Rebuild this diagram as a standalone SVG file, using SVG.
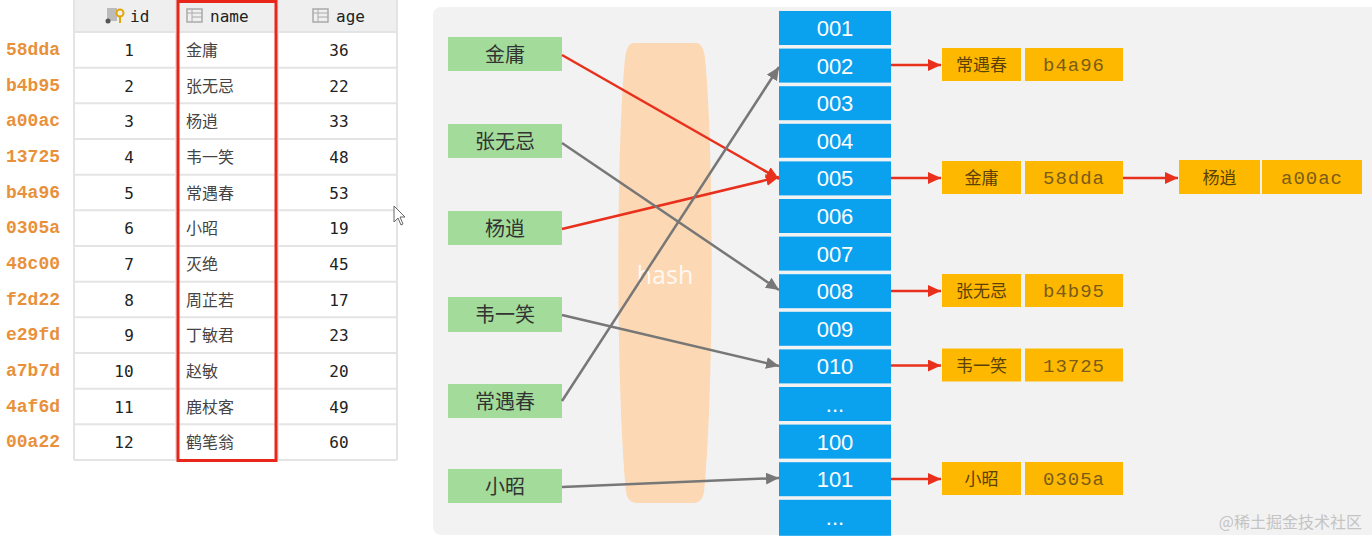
<svg xmlns="http://www.w3.org/2000/svg" width="1372" height="538" viewBox="0 0 1372 538">
<style>
.hdr{font-family:"DejaVu Sans Mono","Liberation Mono",monospace;font-size:16px;fill:#222}
.num{font-family:"DejaVu Sans Mono","Liberation Mono",monospace;font-size:16px;fill:#222;text-anchor:middle}
.nm{font-family:"Noto Sans CJK SC",sans-serif;font-size:16px;fill:#444}
.key{font-family:"Liberation Mono",monospace;font-size:18px;font-weight:bold;fill:#e8913a;text-anchor:middle}
.grn rect{fill:#a3dc9a}
.grn text{font-family:"Noto Sans CJK SC",sans-serif;font-size:20px;fill:#333;text-anchor:middle}
.bkt rect{fill:#0aa2ef}
.bkt text{font-family:"Liberation Sans",Arial,sans-serif;font-size:22px;fill:#fff;text-anchor:middle}
.ent rect{fill:#ffb800}
.ent .n{font-family:"Noto Sans CJK SC",sans-serif;font-size:17px;fill:#5a4208;text-anchor:middle}
.ent .v{font-family:"Liberation Mono",monospace;font-size:19px;fill:#7a5c1a;text-anchor:middle;letter-spacing:1px}
.gl{stroke:#e4e4e4;stroke-width:2}
.cg{stroke:#777;stroke-width:2.5;fill:none}
.cr{stroke:#e8301c;stroke-width:2.5;fill:none}
</style>
<defs>
<marker id="ag" markerUnits="userSpaceOnUse" markerWidth="14" markerHeight="12" refX="13" refY="6" orient="auto"><path d="M0,0 L13,6 L0,12 z" fill="#777"/></marker>
<marker id="ar" markerUnits="userSpaceOnUse" markerWidth="14" markerHeight="12" refX="13" refY="6" orient="auto"><path d="M0,0 L13,6 L0,12 z" fill="#e8301c"/></marker>
</defs>
<rect width="1372" height="538" fill="#fff"/>

<g id="table">
<rect x="74" y="0" width="323" height="32" fill="#efefef"/>
<rect x="74" y="32" width="323" height="428" fill="#fff"/>
<g class="gl">
<line x1="74" y1="32" x2="397" y2="32"/><line x1="74" y1="67.7" x2="397" y2="67.7"/><line x1="74" y1="103.3" x2="397" y2="103.3"/><line x1="74" y1="139" x2="397" y2="139"/><line x1="74" y1="174.7" x2="397" y2="174.7"/><line x1="74" y1="210.3" x2="397" y2="210.3"/><line x1="74" y1="246" x2="397" y2="246"/><line x1="74" y1="281.7" x2="397" y2="281.7"/><line x1="74" y1="317.3" x2="397" y2="317.3"/><line x1="74" y1="353" x2="397" y2="353"/><line x1="74" y1="388.7" x2="397" y2="388.7"/><line x1="74" y1="424.3" x2="397" y2="424.3"/><line x1="74" y1="460" x2="397" y2="460"/>
<line x1="74" y1="0" x2="74" y2="460"/><line x1="176" y1="0" x2="176" y2="460"/><line x1="278" y1="0" x2="278" y2="460"/><line x1="397" y1="0" x2="397" y2="460"/>
</g>
<g id="hdr-icons">
<rect x="107" y="8" width="10" height="13" fill="#bbb"/><circle cx="108" cy="21" r="2.5" fill="#555"/><circle cx="120" cy="13" r="3.5" fill="none" stroke="#e0a800" stroke-width="2"/><line x1="120" y1="16" x2="120" y2="23" stroke="#e0a800" stroke-width="2"/>
<rect x="187" y="9" width="15" height="13" fill="none" stroke="#aaa" stroke-width="1.5"/><line x1="187" y1="13" x2="202" y2="13" stroke="#aaa"/><line x1="192" y1="9" x2="192" y2="22" stroke="#aaa"/><line x1="192" y1="17" x2="202" y2="17" stroke="#aaa"/>
<rect x="313" y="9" width="15" height="13" fill="none" stroke="#aaa" stroke-width="1.5"/><line x1="313" y1="13" x2="328" y2="13" stroke="#aaa"/><line x1="318" y1="9" x2="318" y2="22" stroke="#aaa"/><line x1="318" y1="17" x2="328" y2="17" stroke="#aaa"/>
</g>
<text class="hdr" x="130" y="22">id</text>
<text class="hdr" x="210" y="22">name</text>
<text class="hdr" x="336" y="22">age</text>
<g id="col-id">
<text class="num" x="129" y="56">1</text><text class="num" x="129" y="91.5">2</text><text class="num" x="129" y="127">3</text><text class="num" x="129" y="163">4</text><text class="num" x="129" y="198.5">5</text><text class="num" x="129" y="234">6</text><text class="num" x="129" y="270">7</text><text class="num" x="129" y="305.5">8</text><text class="num" x="129" y="341">9</text><text class="num" x="124" y="377">10</text><text class="num" x="124" y="412.5">11</text><text class="num" x="124" y="448">12</text>
</g>
<g id="col-name">
<text class="nm" x="186" y="56">金庸</text><text class="nm" x="186" y="91.5">张无忌</text><text class="nm" x="186" y="127">杨逍</text><text class="nm" x="186" y="163">韦一笑</text><text class="nm" x="186" y="198.5">常遇春</text><text class="nm" x="186" y="234">小昭</text><text class="nm" x="186" y="270">灭绝</text><text class="nm" x="186" y="305.5">周芷若</text><text class="nm" x="186" y="341">丁敏君</text><text class="nm" x="186" y="377">赵敏</text><text class="nm" x="186" y="412.5">鹿杖客</text><text class="nm" x="186" y="448">鹤笔翁</text>
</g>
<g id="col-age">
<text class="num" x="339" y="56">36</text><text class="num" x="339" y="91.5">22</text><text class="num" x="339" y="127">33</text><text class="num" x="339" y="163">48</text><text class="num" x="339" y="198.5">53</text><text class="num" x="339" y="234">19</text><text class="num" x="339" y="270">45</text><text class="num" x="339" y="305.5">17</text><text class="num" x="339" y="341">23</text><text class="num" x="339" y="377">20</text><text class="num" x="339" y="412.5">49</text><text class="num" x="339" y="448">60</text>
</g>
<rect x="178" y="1.5" width="98" height="459" fill="none" stroke="#e8261a" stroke-width="3"/>
<g id="keys">
<text class="key" x="33" y="55">58dda</text><text class="key" x="33" y="90.5">b4b95</text><text class="key" x="33" y="126">a00ac</text><text class="key" x="33" y="162">13725</text><text class="key" x="33" y="197.5">b4a96</text><text class="key" x="33" y="233">0305a</text><text class="key" x="33" y="269">48c00</text><text class="key" x="33" y="304.5">f2d22</text><text class="key" x="33" y="340">e29fd</text><text class="key" x="33" y="376">a7b7d</text><text class="key" x="33" y="411.5">4af6d</text><text class="key" x="33" y="447">00a22</text>
</g>
</g>
<path d="M394,206 L394,222 L398,218 L401,225 L403,224 L400,217 L405,217 Z" fill="#fff" stroke="#666" stroke-width="1"/>

<rect x="433" y="7" width="950" height="528" rx="8" fill="#f2f2f2"/>
<g id="hash">
<path d="M634,43 L696,43 Q703,43 705,58 C714,150 714,390 704,492 Q702,503 694,503 L636,503 Q628,503 626,492 C616,390 616,150 625,58 Q627,43 634,43 Z" fill="#fdd8b4"/>
<text x="665" y="284" font-family="Open Sans,Liberation Sans,sans-serif" font-size="25" fill="#fff" fill-opacity="0.85" text-anchor="middle">hash</text>
</g>

<g id="keys-in" class="grn">
<g id="k1"><rect x="448" y="37" width="114" height="34"/><text x="505" y="62">金庸</text></g>
<g id="k2"><rect x="448" y="124" width="114" height="34"/><text x="505" y="149">张无忌</text></g>
<g id="k3"><rect x="448" y="211" width="114" height="34"/><text x="505" y="236">杨逍</text></g>
<g id="k4"><rect x="448" y="297" width="114" height="35"/><text x="505" y="322">韦一笑</text></g>
<g id="k5"><rect x="448" y="384" width="114" height="34"/><text x="505" y="409">常遇春</text></g>
<g id="k6"><rect x="448" y="469" width="114" height="34"/><text x="505" y="494">小昭</text></g>
</g>

<g id="buckets" class="bkt">
<g id="b001"><rect x="779" y="11" width="112" height="34"/><text x="835" y="36">001</text></g>
<g id="b002"><rect x="779" y="48.6" width="112" height="34"/><text x="835" y="73.6">002</text></g>
<g id="b003"><rect x="779" y="86.2" width="112" height="34"/><text x="835" y="111.2">003</text></g>
<g id="b004"><rect x="779" y="123.8" width="112" height="34"/><text x="835" y="148.8">004</text></g>
<g id="b005"><rect x="779" y="161.4" width="112" height="34"/><text x="835" y="186.4">005</text></g>
<g id="b006"><rect x="779" y="199" width="112" height="34"/><text x="835" y="224">006</text></g>
<g id="b007"><rect x="779" y="236.6" width="112" height="34"/><text x="835" y="261.6">007</text></g>
<g id="b008"><rect x="779" y="274.2" width="112" height="34"/><text x="835" y="299.2">008</text></g>
<g id="b009"><rect x="779" y="311.8" width="112" height="34"/><text x="835" y="336.8">009</text></g>
<g id="b010"><rect x="779" y="349.4" width="112" height="34"/><text x="835" y="374.4">010</text></g>
<g id="bdots1"><rect x="779" y="387" width="112" height="34"/><text x="835" y="412">...</text></g>
<g id="b100"><rect x="779" y="424.6" width="112" height="34"/><text x="835" y="449.6">100</text></g>
<g id="b101"><rect x="779" y="462.2" width="112" height="34"/><text x="835" y="487.2">101</text></g>
<g id="bdots2"><rect x="779" y="499.8" width="112" height="36"/><text x="835" y="525">...</text></g>
</g>

<g id="entries" class="ent">
<g id="e1"><rect x="942" y="48" width="79" height="33"/><rect x="1025" y="48" width="98" height="33"/><text class="n" x="981.5" y="71">常遇春</text><text class="v" x="1074" y="71">b4a96</text></g>
<g id="e2"><rect x="942" y="161" width="79" height="33"/><rect x="1025" y="161" width="98" height="33"/><text class="n" x="981.5" y="184">金庸</text><text class="v" x="1074" y="184">58dda</text></g>
<g id="e3"><rect x="1179" y="160" width="81" height="34"/><rect x="1262" y="160" width="100" height="34"/><text class="n" x="1219.5" y="184">杨逍</text><text class="v" x="1312" y="184">a00ac</text></g>
<g id="e4"><rect x="942" y="274" width="79" height="33"/><rect x="1025" y="274" width="98" height="33"/><text class="n" x="981.5" y="297">张无忌</text><text class="v" x="1074" y="297">b4b95</text></g>
<g id="e5"><rect x="942" y="348.5" width="79" height="33"/><rect x="1025" y="348.5" width="98" height="33"/><text class="n" x="981.5" y="371.5">韦一笑</text><text class="v" x="1074" y="371.5">13725</text></g>
<g id="e6"><rect x="942" y="462" width="79" height="33"/><rect x="1025" y="462" width="98" height="33"/><text class="n" x="981.5" y="485">小昭</text><text class="v" x="1074" y="485">0305a</text></g>
</g>

<g id="connectors">
<line class="cr" x1="562" y1="55" x2="779" y2="179" marker-end="url(#ar)"/>
<line class="cr" x1="562" y1="229" x2="779" y2="177" marker-end="url(#ar)"/>
<line class="cg" x1="562" y1="143" x2="779" y2="290" marker-end="url(#ag)"/>
<line class="cg" x1="562" y1="315" x2="779" y2="366" marker-end="url(#ag)"/>
<line class="cg" x1="562" y1="401" x2="779" y2="67" marker-end="url(#ag)"/>
<line class="cg" x1="562" y1="487" x2="779" y2="478" marker-end="url(#ag)"/>
<line class="cr" x1="891" y1="65" x2="941" y2="65" marker-end="url(#ar)"/>
<line class="cr" x1="891" y1="178" x2="941" y2="178" marker-end="url(#ar)"/>
<line class="cr" x1="1123" y1="178" x2="1178" y2="178" marker-end="url(#ar)"/>
<line class="cr" x1="891" y1="291" x2="941" y2="291" marker-end="url(#ar)"/>
<line class="cr" x1="891" y1="365.5" x2="941" y2="365.5" marker-end="url(#ar)"/>
<line class="cr" x1="891" y1="479" x2="941" y2="479" marker-end="url(#ar)"/>
</g>
<text x="1362" y="528" font-family="Noto Sans CJK SC,sans-serif" font-size="16" fill="#c4c4c4" text-anchor="end">@稀土掘金技术社区</text>
</svg>
